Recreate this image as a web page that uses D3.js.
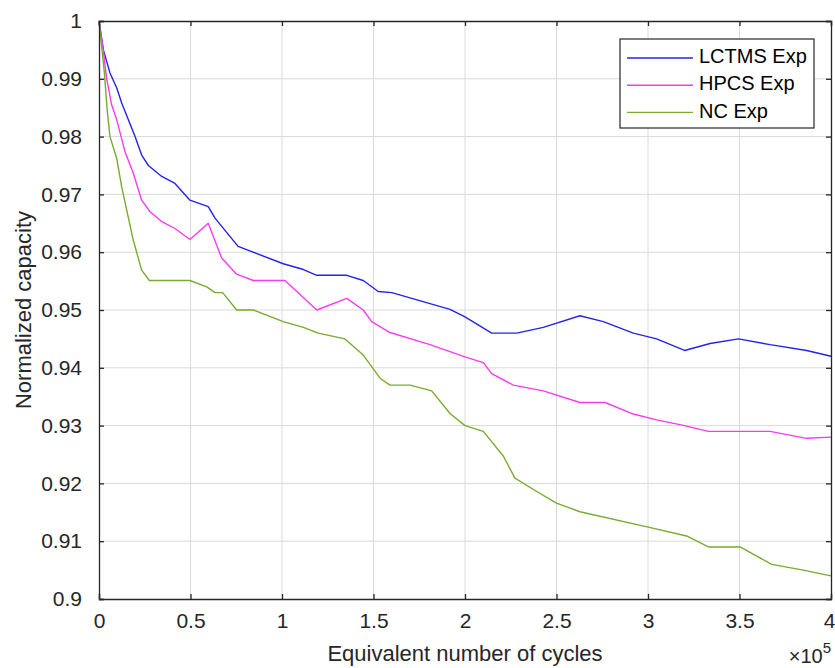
<!DOCTYPE html>
<html>
<head>
<meta charset="utf-8">
<script src="https://cdn.jsdelivr.net/npm/d3@7"></script>
<style>
  body { margin: 0; background: #fff; }
  svg { display: block; font-family: "Liberation Sans", Arial, sans-serif; }
</style>
</head>
<body>
<div id="chart"></div>
<script>
// cycles in units of 1e5, capacity normalized
const lctms = [
  [0, 1.0], [0.024, 0.995], [0.06, 0.991], [0.097, 0.9884], [0.124, 0.9858],
  [0.197, 0.980], [0.233, 0.9768], [0.27, 0.975], [0.343, 0.9731], [0.415, 0.9719],
  [0.497, 0.969], [0.597, 0.9679], [0.634, 0.9659], [0.76, 0.961], [1.007, 0.958],
  [1.117, 0.957], [1.19, 0.956], [1.354, 0.956], [1.444, 0.9551], [1.526, 0.9532],
  [1.6, 0.953], [1.918, 0.9501], [2.0, 0.9488], [2.146, 0.946], [2.283, 0.946],
  [2.428, 0.947], [2.628, 0.949], [2.756, 0.948], [2.92, 0.946], [3.047, 0.945],
  [3.2, 0.943], [3.339, 0.9442], [3.494, 0.945], [3.667, 0.944], [3.867, 0.943],
  [4.0, 0.942]
];
const hpcs = [
  [0, 1.0], [0.024, 0.9947], [0.042, 0.990], [0.069, 0.9855], [0.097, 0.9829],
  [0.142, 0.9774], [0.187, 0.9737], [0.233, 0.969], [0.279, 0.967], [0.343, 0.9653],
  [0.415, 0.9641], [0.497, 0.9622], [0.597, 0.965], [0.67, 0.959], [0.752, 0.9562],
  [0.843, 0.9551], [1.016, 0.9551], [1.19, 0.950], [1.354, 0.952], [1.444, 0.950],
  [1.49, 0.948], [1.59, 0.9461], [1.809, 0.944], [2.0, 0.9419], [2.1, 0.9409],
  [2.146, 0.939], [2.264, 0.937], [2.428, 0.936], [2.628, 0.934], [2.765, 0.934],
  [2.92, 0.932], [3.047, 0.931], [3.2, 0.930], [3.33, 0.929], [3.667, 0.929],
  [3.867, 0.9278], [4.0, 0.928]
];
const nc = [
  [0, 1.0], [0.029, 0.9912], [0.045, 0.9845], [0.06, 0.980], [0.097, 0.9762],
  [0.124, 0.9713], [0.187, 0.9621], [0.233, 0.9569], [0.275, 0.9551], [0.497, 0.9551],
  [0.589, 0.954], [0.634, 0.953], [0.676, 0.953], [0.752, 0.950], [0.843, 0.950],
  [1.007, 0.948], [1.117, 0.947], [1.198, 0.946], [1.344, 0.945], [1.444, 0.9422],
  [1.536, 0.9382], [1.59, 0.937], [1.7, 0.937], [1.818, 0.936], [1.918, 0.9321],
  [2.0, 0.930], [2.1, 0.929], [2.21, 0.9247], [2.273, 0.9209], [2.392, 0.9186],
  [2.5, 0.9166], [2.628, 0.9151], [3.007, 0.9124], [3.211, 0.9109], [3.33, 0.909],
  [3.503, 0.909], [3.676, 0.906], [3.849, 0.905], [4.0, 0.904]
];

const seriesNames = ["LCTMS Exp", "HPCS Exp", "NC Exp"];
const seriesColors = ["#2424e6", "#f53cf0", "#77ac30"];
const xTicks = [0, 0.5, 1, 1.5, 2, 2.5, 3, 3.5, 4];
const yTicks = [0.9, 0.91, 0.92, 0.93, 0.94, 0.95, 0.96, 0.97, 0.98, 0.99, 1];

let width = 835,
    height = 668,
    margin = ({ top: 21, right: 4, bottom: 69, left: 99 });

const svg = d3.select("#chart")
  .append("svg")
  .attr("width", width)
  .attr("height", height);

let x = d3.scaleLinear()
  .domain([0, 4])
  .range([margin.left, width - margin.right]);

let y = d3.scaleLinear()
  .domain([0.9, 1])
  .range([height - margin.bottom, margin.top]);

// grid
svg.append("g")
  .selectAll("line")
  .data(xTicks.slice(1, -1))
  .join("line")
  .attr("x1", d => x(d)).attr("x2", d => x(d))
  .attr("y1", margin.top).attr("y2", height - margin.bottom)
  .attr("stroke", "#dadada").attr("stroke-width", 1);

svg.append("g")
  .selectAll("line")
  .data(yTicks.slice(1, -1))
  .join("line")
  .attr("x1", margin.left).attr("x2", width - margin.right)
  .attr("y1", d => y(d)).attr("y2", d => y(d))
  .attr("stroke", "#dadada").attr("stroke-width", 1);

// lines
let line = d3.line()
  .x(d => x(d[0]))
  .y(d => y(d[1]));

[lctms, hpcs, nc].forEach((s, i) => {
  svg.append("path")
    .datum(s)
    .attr("fill", "none")
    .attr("stroke", seriesColors[i])
    .attr("stroke-width", 1.4)
    .attr("stroke-linejoin", "round")
    .attr("d", line);
});

// axes (matlab box style, ticks inward)
const tickLen = 5;
const fmt = d => d3.format("~g")(+d.toFixed(2));

let xb = svg.append("g")
  .attr("transform", `translate(0,${height - margin.bottom})`)
  .call(d3.axisBottom(x).tickValues(xTicks).tickSize(-tickLen).tickPadding(14).tickFormat(fmt));
let xt = svg.append("g")
  .attr("transform", `translate(0,${margin.top})`)
  .call(d3.axisTop(x).tickValues(xTicks).tickSize(-tickLen).tickFormat(""));
let yl = svg.append("g")
  .attr("transform", `translate(${margin.left},0)`)
  .call(d3.axisLeft(y).tickValues(yTicks).tickSize(-tickLen).tickPadding(17).tickFormat(fmt));
let yr = svg.append("g")
  .attr("transform", `translate(${width - margin.right},0)`)
  .call(d3.axisRight(y).tickValues(yTicks).tickSize(-tickLen).tickFormat(""));

[xb, xt, yl, yr].forEach(g => {
  g.select(".domain").attr("stroke", "#262626").attr("stroke-width", 1.3);
  g.selectAll(".tick line").attr("stroke", "#262626").attr("stroke-width", 1.3);
  g.selectAll(".tick text")
    .attr("fill", "#262626")
    .style("font-size", "21px")
    .style("font-family", "'Liberation Sans', Arial, sans-serif");
});
xb.selectAll(".tick text").attr("dy", "0.71em");
// last x label sits on the right edge, keep it inside the page
xb.selectAll(".tick text").filter(d => d === 4).attr("text-anchor", "end").attr("dx", 4);

// axis labels
svg.append("text")
  .text("Equivalent number of cycles")
  .attr("x", (margin.left + width - margin.right) / 2)
  .attr("y", 661)
  .attr("text-anchor", "middle")
  .attr("fill", "#262626")
  .style("font-size", "22px");

svg.append("text")
  .text("Normalized capacity")
  .attr("transform", `translate(25,${(margin.top + height - margin.bottom) / 2}) rotate(-90)`)
  .attr("text-anchor", "middle")
  .attr("dominant-baseline", "middle")
  .attr("fill", "#262626")
  .style("font-size", "22px");

let expo = svg.append("text")
  .attr("x", 831)
  .attr("y", 663)
  .attr("text-anchor", "end")
  .attr("fill", "#262626")
  .style("font-size", "20px");
expo.append("tspan").text("\u00d710");
expo.append("tspan").text("5").attr("dy", -10).style("font-size", "15px");

// legend
let lg = svg.append("g");
lg.append("rect")
  .attr("x", 620).attr("y", 39)
  .attr("width", 194).attr("height", 89)
  .attr("fill", "#fff")
  .attr("stroke", "#262626")
  .attr("stroke-width", 1.2);

seriesNames.forEach((name, i) => {
  let ry = 58 + i * 27.2;
  lg.append("line")
    .attr("x1", 627).attr("x2", 693)
    .attr("y1", ry).attr("y2", ry)
    .attr("stroke", seriesColors[i])
    .attr("stroke-width", 1.4);
  lg.append("text")
    .text(name)
    .attr("x", 699)
    .attr("y", ry)
    .attr("dominant-baseline", "middle")
    .attr("fill", "#000")
    .style("font-size", "20px");
});
</script>
</body>
</html>
